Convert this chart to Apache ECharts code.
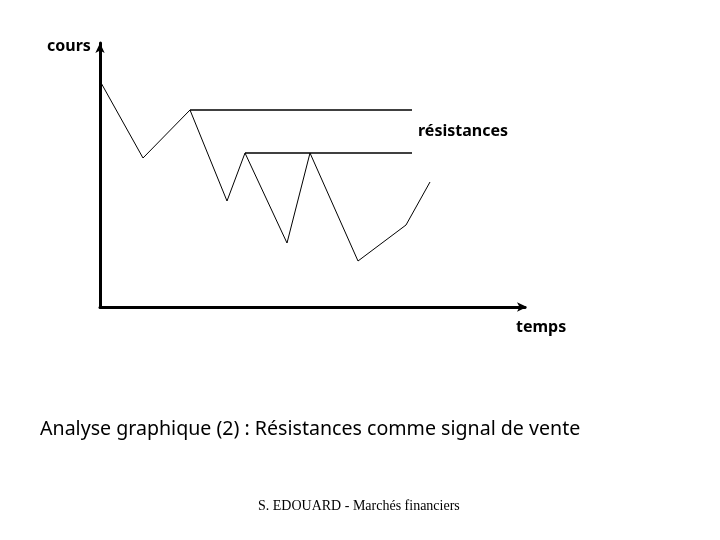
<!DOCTYPE html>
<html>
<head>
<meta charset="utf-8">
<script src="https://cdn.jsdelivr.net/npm/echarts@6/dist/echarts.min.js"></script>
<style>
  html, body { margin: 0; padding: 0; background: #fff; }
  #chart { width: 720px; height: 540px; }
</style>
</head>
<body>
<div id="chart"></div>
<script>
// temps (x) et cours (y) de la courbe en zigzag
var temps = [0, 8.6, 18, 25.4, 29, 37.4, 42, 51.6, 61.2, 66];
var cours = [56.5, 37.25, 49.25, 26.5, 38.5, 16, 38.5, 11.5, 20.5, 31.25];

// les deux résistances : [debut, fin, niveau]
var resistanceHaute = [18, 62.4, 49.25];
var resistanceBasse = [29, 62.4, 38.5];

var titre = 'Analyse graphique (2) : Résistances comme signal de vente';
var auteur = 'S. EDOUARD - Marchés financiers';

function toPoints(xs, ys) {
    var pts = [];
    for (var i = 0; i < xs.length; i++) {
        pts.push([xs[i], ys[i]]);
    }
    return pts;
}

function resLine(r) {
    return [[r[0], r[2]], [r[1], r[2]]];
}

var myChart = echarts.init(document.getElementById('chart'));
var handFont = '"Noto Sans", "DejaVu Sans", sans-serif';

var option = {
    backgroundColor: '#fff',
    animation: false,
    grid: {
        left: 100,
        top: 43,
        right: 195,
        bottom: 233
    },
    xAxis: {
        type: 'value',
        min: 0,
        max: 85,
        axisLine: {
            show: true,
            symbol: ['none', 'arrow'],
            symbolSize: [7, 10],
            symbolOffset: [0, 2],
            lineStyle: { color: '#000', width: 3 }
        },
        axisTick: { show: false },
        axisLabel: { show: false },
        splitLine: { show: false }
    },
    yAxis: {
        type: 'value',
        min: 0,
        max: 66,
        axisLine: {
            show: true,
            symbol: ['none', 'arrow'],
            symbolSize: [7, 10],
            lineStyle: { color: '#000', width: 3 }
        },
        axisTick: { show: false },
        axisLabel: { show: false },
        splitLine: { show: false }
    },
    series: [
        {
            name: 'cours',
            type: 'line',
            data: toPoints(temps, cours),
            showSymbol: false,
            lineStyle: { color: '#000', width: 1 }
        },
        {
            name: 'résistance haute',
            type: 'line',
            data: resLine(resistanceHaute),
            showSymbol: false,
            lineStyle: { color: '#000', width: 1.5 }
        },
        {
            name: 'résistance basse',
            type: 'line',
            data: resLine(resistanceBasse),
            showSymbol: false,
            lineStyle: { color: '#000', width: 1.5 }
        }
    ],
    graphic: [
        {
            type: 'text', left: 47, top: 38,
            style: { text: 'cours', font: 'bold 16px ' + handFont, fill: '#000' }
        },
        {
            type: 'text', left: 418, top: 123,
            style: { text: 'résistances', font: 'bold 16px ' + handFont, fill: '#000' }
        },
        {
            type: 'text', left: 516, top: 319,
            style: { text: 'temps', font: 'bold 16px ' + handFont, fill: '#000' }
        },
        {
            type: 'text', left: 40, top: 419,
            style: { text: titre, font: '19.6px ' + handFont, fill: '#000' }
        },
        {
            type: 'text', left: 258, top: 499,
            style: { text: auteur, font: '14px "Liberation Serif", "DejaVu Serif", serif', fill: '#000' }
        }
    ]
};

myChart.setOption(option);
</script>
</body>
</html>
